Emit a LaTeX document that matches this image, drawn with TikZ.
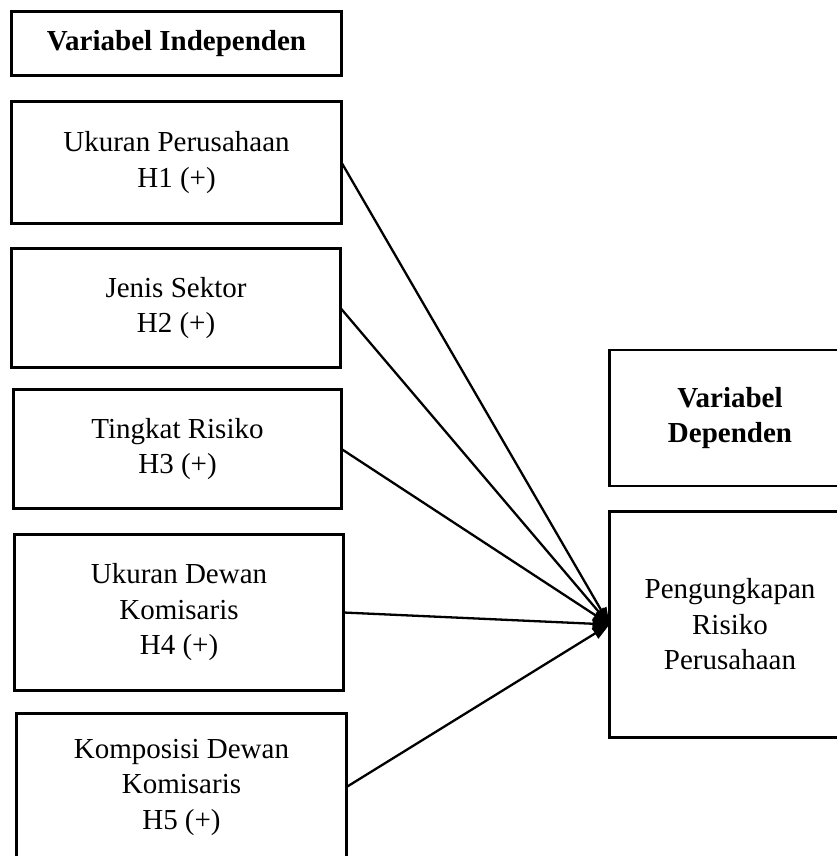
\documentclass[tikz,border=0pt]{standalone}
\usepackage{fontspec}
\setmainfont{Liberation Serif}
\usetikzlibrary{arrows.meta}
\begin{document}
\begin{tikzpicture}[x=1pt,y=-1pt,
  vbox/.style={draw=black, line width=2.6pt, rectangle, align=center,
    inner sep=0pt, outer sep=0pt,
    font=\fontsize{29}{35.5}\selectfont},
  conn/.style={line width=2.3pt, -{Triangle[length=17pt,width=12pt]}}]
\useasboundingbox (0,0) rectangle (837,856);
\clip (0,0) rectangle (837,856);
\node[vbox, minimum width=330pt, minimum height=64pt] (B0) at (176.5,43.5) {\bfseries Variabel Independen};
\node[vbox, minimum width=330pt, minimum height=122pt] (B1) at (176.5,162.5) {Ukuran Perusahaan\\H1 (+)};
\node[vbox, minimum width=329pt, minimum height=119pt] (B2) at (176,308) {Jenis Sektor\\H2 (+)};
\node[vbox, minimum width=328pt, minimum height=119pt] (B3) at (177.5,449) {Tingkat Risiko\\H3 (+)};
\node[vbox, minimum width=329pt, minimum height=156pt] (B4) at (179,612.5) {Ukuran Dewan\\Komisaris\\H4 (+)};
\node[vbox, minimum width=330pt, minimum height=147pt] (B5) at (181.5,787) {Komposisi Dewan\\Komisaris\\H5 (+)};
\node[vbox, minimum width=241pt, minimum height=136pt] (D0) at (730,418) {\bfseries Variabel\\\bfseries Dependen};
\node[vbox, minimum width=241pt, minimum height=226pt] (D1) at (730,624.5) {Pengungkapan\\Risiko\\Perusahaan};
\draw[conn] (B1.east) -- (D1.west);
\draw[conn] (B2.east) -- (D1.west);
\draw[conn] (B3.east) -- (D1.west);
\draw[conn] (B4.east) -- (D1.west);
\draw[conn] (B5.east) -- (D1.west);
\end{tikzpicture}
\end{document}
